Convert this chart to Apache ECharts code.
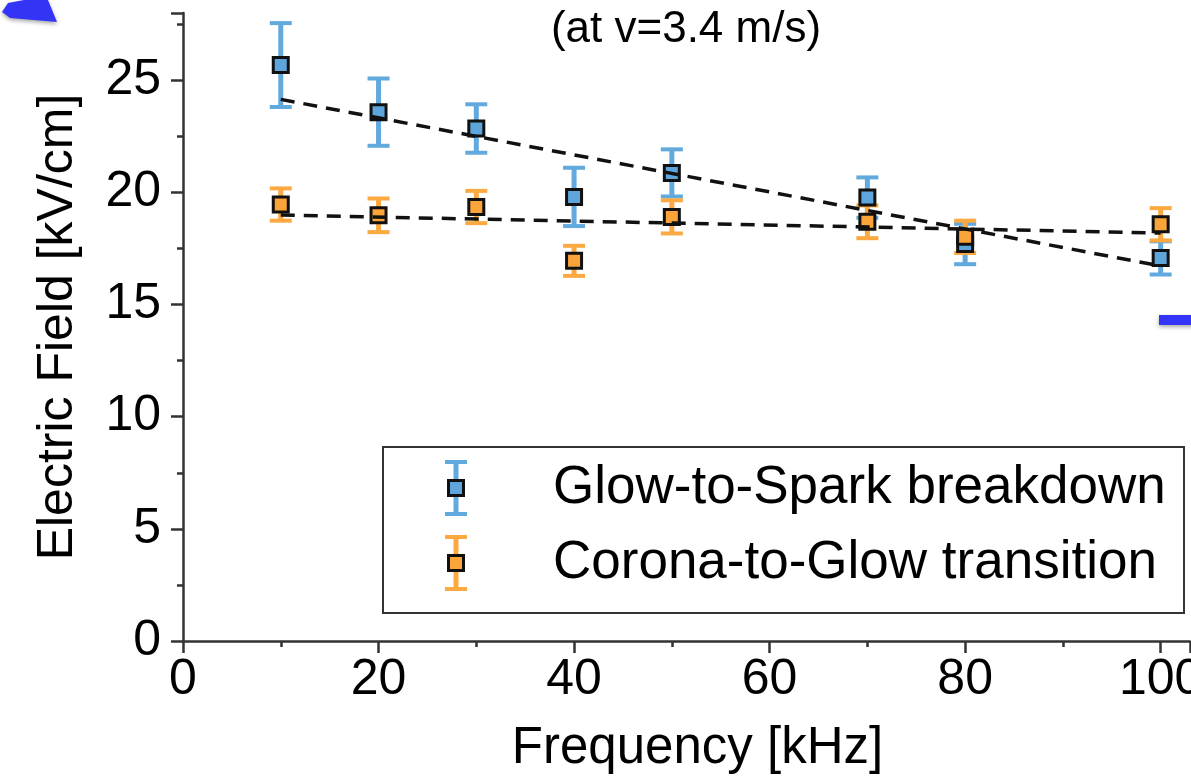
<!DOCTYPE html>
<html>
<head>
<meta charset="utf-8">
<script src="https://cdn.jsdelivr.net/npm/echarts@6/dist/echarts.min.js"></script>
<style>
  html, body { margin: 0; padding: 0; background: #fff; overflow: hidden; }
  #main { width: 1191px; height: 782px; }
</style>
</head>
<body>
<div id="main"></div>
<script>
  // frequency [kHz]
  var freq = [10, 20, 30, 40, 50, 70, 80, 100];
  // Glow-to-Spark breakdown field and error
  var sparkField = [25.68, 23.58, 22.85, 19.8, 20.87, 19.77, 17.7, 17.08];
  var sparkErr = [1.87, 1.5, 1.08, 1.3, 1.05, 0.9, 0.9, 0.74];
  // Corona-to-Glow transition field and error
  var coronaField = [19.46, 18.98, 19.35, 16.95, 18.91, 18.69, 18.02, 18.58];
  var coronaErr = [0.72, 0.75, 0.72, 0.67, 0.74, 0.73, 0.72, 0.72];
  // dashed fit lines (end points)
  var sparkFit = [[10, 24.15], [100, 16.72]];
  var coronaFit = [[10, 18.99], [100, 18.19]];

  var names = ['Glow-to-Spark breakdown', 'Corona-to-Glow transition'];
  var markerColors = ['#5DA5DA', '#FAA43A'];
  var barColors = ['#62A9DE', '#FBA940'];
  var xTicks = [0, 20, 40, 60, 80, 100];
  var yTicks = [0, 5, 10, 15, 20, 25];

  var font = 'Liberation Sans, Arial, Helvetica, sans-serif';

  function errData(vals, errs) {
    return freq.map(function (f, i) { return [f, vals[i] - errs[i], vals[i] + errs[i]]; });
  }
  function ptData(vals) {
    return freq.map(function (f, i) { return [f, vals[i]]; });
  }

  function renderErr(params, api) {
    var x = api.value(0);
    var top = api.coord([x, api.value(2)]);
    var bot = api.coord([x, api.value(1)]);
    var hw = 11;
    var st = { stroke: api.visual('color'), lineWidth: 5 };
    var cap = { stroke: api.visual('color'), lineWidth: 4 };
    return {
      type: 'group',
      children: [
        { type: 'line', shape: { x1: top[0], y1: top[1], x2: bot[0], y2: bot[1] }, style: st },
        { type: 'line', shape: { x1: top[0] - hw, y1: top[1], x2: top[0] + hw, y2: top[1] }, style: cap },
        { type: 'line', shape: { x1: bot[0] - hw, y1: bot[1], x2: bot[0] + hw, y2: bot[1] }, style: cap }
      ]
    };
  }

  function errSeries(vals, errs, k) {
    return {
      name: names[k],
      type: 'custom',
      renderItem: renderErr,
      itemStyle: { color: barColors[k] },
      encode: { x: 0, y: [1, 2] },
      data: errData(vals, errs),
      silent: true
    };
  }
  function ptSeries(vals, k) {
    return {
      name: names[k],
      type: 'scatter',
      symbol: 'rect',
      symbolSize: 15,
      itemStyle: { color: markerColors[k], borderColor: '#111', borderWidth: 3, opacity: 1 },
      data: ptData(vals)
    };
  }
  function fitSeries(pts) {
    return {
      type: 'line',
      data: pts,
      symbol: 'none',
      lineStyle: { color: '#111', width: 3.5, type: [14, 9] },
      silent: true
    };
  }

  // legend drawn by hand: box, error bar icon, text
  function legendGraphic() {
    var kids = [{
      type: 'rect',
      shape: { x: 383, y: 447, width: 801, height: 166 },
      style: { fill: '#fff', stroke: '#333', lineWidth: 2 }
    }];
    var rows = [488, 563];
    rows.forEach(function (cy, k) {
      var cx = 456;
      var st = { stroke: barColors[k], lineWidth: 5 };
      kids.push({ type: 'line', shape: { x1: cx, y1: cy - 26, x2: cx, y2: cy + 26 }, style: st });
      kids.push({ type: 'line', shape: { x1: cx - 11, y1: cy - 26, x2: cx + 11, y2: cy - 26 }, style: { stroke: barColors[k], lineWidth: 4 } });
      kids.push({ type: 'line', shape: { x1: cx - 11, y1: cy + 26, x2: cx + 11, y2: cy + 26 }, style: { stroke: barColors[k], lineWidth: 4 } });
      kids.push({ type: 'rect', shape: { x: cx - 7.5, y: cy - 7.5, width: 15, height: 15 }, style: { fill: markerColors[k], stroke: '#111', lineWidth: 3 } });
      kids.push({
        type: 'text', x: 553, y: cy,
        style: { text: names[k], fill: '#000', font: '53px ' + font, verticalAlign: 'middle' }
      });
    });
    return { type: 'group', z: 50, children: kids };
  }

  var myChart = echarts.init(document.getElementById('main'));

  myChart.setOption({
    backgroundColor: '#fff',
    animation: false,
    textStyle: { fontFamily: font },
    grid: { left: 183, right: 1, top: 13, bottom: 141, containLabel: false, outerBoundsMode: 'none' },
    xAxis: {
      type: 'value',
      min: 0,
      max: 103,
      interval: 20,
      name: 'Frequency [kHz]',
      nameLocation: 'middle',
      nameGap: 82,
      nameTextStyle: { fontSize: 51, color: '#000', fontFamily: font, padding: [0, 0, 0, 22] },
      axisLine: { onZero: false, lineStyle: { color: '#333', width: 2.5 } },
      axisTick: { show: true, inside: false, length: 12, lineStyle: { color: '#333', width: 2.5 } },
      minorTick: { show: true, splitNumber: 2, length: 6, lineStyle: { color: '#333', width: 2.5 } },
      axisLabel: {
        fontSize: 50, color: '#000', margin: 14, showMaxLabel: false,
        formatter: function (v) { return xTicks.indexOf(v) >= 0 ? String(v) : ''; }
      },
      splitLine: { show: false }
    },
    yAxis: {
      type: 'value',
      min: 0,
      max: 28,
      interval: 5,
      name: 'Electric Field [kV/cm]',
      nameLocation: 'middle',
      nameGap: 100,
      nameTextStyle: { fontSize: 50, color: '#000', fontFamily: font },
      axisLine: { onZero: false, lineStyle: { color: '#333', width: 2.5 } },
      axisTick: { show: true, inside: false, length: 12, lineStyle: { color: '#333', width: 2.5 } },
      minorTick: { show: true, splitNumber: 2, length: 6, lineStyle: { color: '#333', width: 2.5 } },
      axisLabel: {
        fontSize: 50, color: '#000', margin: 22, showMaxLabel: false,
        formatter: function (v) { return yTicks.indexOf(v) >= 0 ? String(v) : ''; }
      },
      splitLine: { show: false }
    },
    graphic: [
      {
        type: 'text', x: 686, y: 30,
        style: { text: '(at v=3.4 m/s)', fill: '#000', font: '44px ' + font, align: 'center', verticalAlign: 'middle' }
      },
      // blue annotation arrows cut off at the picture edge
      {
        type: 'polygon',
        shape: { points: [[2, 12], [8, 3], [24, 0], [48, 0], [57, 22], [10, 18]] },
        style: { fill: '#3434F6', shadowBlur: 4, shadowColor: 'rgba(0,0,0,0.35)', shadowOffsetY: 2 }
      },
      {
        type: 'rect',
        shape: { x: 1159, y: 315, width: 40, height: 10 },
        style: { fill: '#3434F6', shadowBlur: 4, shadowColor: 'rgba(0,0,0,0.35)', shadowOffsetY: 2 }
      },
      legendGraphic()
    ],
    series: [
      errSeries(sparkField, sparkErr, 0),
      ptSeries(sparkField, 0),
      errSeries(coronaField, coronaErr, 1),
      ptSeries(coronaField, 1),
      fitSeries(sparkFit),
      fitSeries(coronaFit)
    ]
  });
</script>
</body>
</html>
